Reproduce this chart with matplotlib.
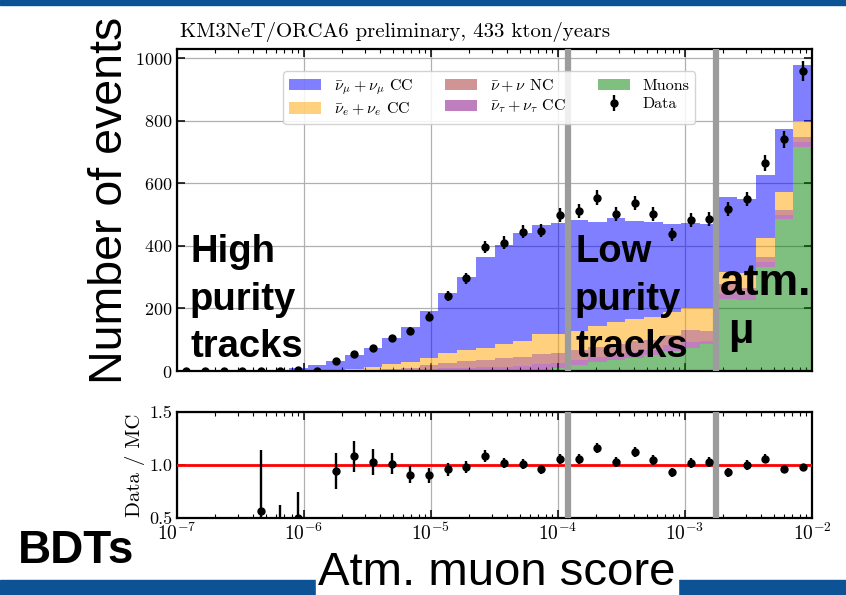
import numpy as np
import matplotlib.pyplot as plt
from matplotlib.patches import Rectangle
from matplotlib.ticker import LogLocator, NullFormatter

plt.rcParams['font.family'] = 'serif'
plt.rcParams['font.serif'] = ['cmr10', 'DejaVu Serif']
plt.rcParams['mathtext.fontset'] = 'cm'
plt.rcParams['axes.formatter.use_mathtext'] = True
plt.rcParams['axes.unicode_minus'] = False

W, H = 846, 595

# 34 log-spaced bins in atm. muon score
edges = np.logspace(-7, -2, 35)

# stacked MC expectations per bin (bottom -> top)
muons = [0] * 17 + [1, 2, 4, 8, 18, 28, 35, 42, 50, 65, 75, 86,
                    231, 228, 333, 486, 715]
nutau_cc = [0, 0, 0, 0, 0.1, 0.2, 0.3, 0.4, 0.7, 1, 1.4, 2, 3.5, 6, 9, 10, 12,
            13, 14, 17, 17, 17, 17, 17, 18, 17, 17, 18, 11, 16, 19, 17, 14, 16]
nu_nc = [0, 0, 0, 0, 0.1, 0.3, 0.7, 0.6, 1.3, 2, 2.6, 4, 6.5, 12, 17, 21, 24,
         26, 29, 34, 34, 33, 33, 33, 35, 33, 33, 37, 32, 30, 17, 16, 16, 16]
nue_cc = [0, 0, 0, 0, 0.3, 0.5, 1, 1, 2, 4, 8, 15, 18, 23, 31, 35, 39,
          45, 50, 63, 59, 61, 67, 71, 72, 72, 73, 70, 73, 40, 48, 59, 56, 54]
numu_cc = [0, 0, 0, 0, 1.25, 2.2, 6, 18, 29, 43, 61, 83, 114, 152, 193, 236, 291,
           318, 346, 350, 354, 355, 333, 332, 313, 306, 283, 275, 269, 240, 238, 202, 201, 179]

data = [0, 0, 0, 0, 1, 1, 4, 0, 31, 54, 75, 105, 129, 174, 240, 296, 396,
        411, 446, 449, 500, 513, 554, 503, 538, 502, 438, 484, 486, 518, 550, 665, 742, 960]

# BDT cut values
cuts = [1.2e-4, 1.75e-3]

components = [
    (muons, '#008000', 'Muons'),
    (nutau_cc, '#800080', r'$\bar{\nu}_\tau + \nu_\tau$ CC'),
    (nu_nc, '#a52a2a', r'$\bar{\nu} + \nu$ NC'),
    (nue_cc, '#ffa500', r'$\bar{\nu}_e + \nu_e$ CC'),
    (numu_cc, '#0000ff', r'$\bar{\nu}_\mu + \nu_\mu$ CC'),
]

centers = np.sqrt(edges[:-1] * edges[1:])
data_arr = np.array(data, dtype=float)

fig = plt.figure(figsize=(W / 100, H / 100), dpi=100)
ax = fig.add_axes([177 / W, 1 - 371 / H, 635 / W, 322 / H])
axr = fig.add_axes([177 / W, 1 - 518.3 / H, 635 / W, 106.6 / H])

# stacked histogram
bottom = np.zeros(len(edges) - 1)
handles = {}
for vals, col, lab in components:
    v = np.array(vals, dtype=float)
    h = ax.stairs(bottom + v, edges, baseline=bottom, fill=True,
                  color=col, alpha=0.5, lw=0, label=lab, zorder=2)
    handles[lab] = h
    bottom = bottom + v
mc_total = bottom

dh = ax.errorbar(centers, data_arr, yerr=np.sqrt(data_arr), fmt='o', color='k',
                 ms=5, elinewidth=1.7, capsize=0, zorder=5, label='Data')

for c in cuts:
    ax.axvline(c, color='#9c9c9c', lw=4.5, zorder=4)
    axr.axvline(c, color='#9c9c9c', lw=4.5, zorder=4)

ax.set_xscale('log')
ax.set_xlim(1e-7, 1e-2)
ax.set_ylim(0, 1030)
ax.set_yticks([0, 200, 400, 600, 800, 1000])
ax.grid(True, color='#b0b0b0', lw=0.9, zorder=1)
ax.set_axisbelow(True)
ax.tick_params(which='both', direction='in', top=True, right=True,
               labelbottom=False, labelsize=13)
ax.tick_params(which='major', length=6, width=1.1)
ax.tick_params(which='minor', length=3, width=0.8)
ax.xaxis.set_minor_locator(LogLocator(base=10, subs=np.arange(2, 10), numticks=20))
ax.xaxis.set_minor_formatter(NullFormatter())
for s in ax.spines.values():
    s.set_linewidth(1.6)

order = [r'$\bar{\nu}_\mu + \nu_\mu$ CC', r'$\bar{\nu}_e + \nu_e$ CC',
         r'$\bar{\nu} + \nu$ NC', r'$\bar{\nu}_\tau + \nu_\tau$ CC', 'Muons']
leg = ax.legend([handles[k] for k in order] + [dh], order + ['Data'],
                ncol=3, loc='upper left', bbox_to_anchor=(0.155, 0.955),
                fontsize=11.5, frameon=True, handlelength=2.0, handletextpad=0.8,
                columnspacing=2.0, borderpad=0.35, labelspacing=0.25)
leg.get_frame().set_edgecolor('#cccccc')
leg.get_frame().set_alpha(0.85)

# data / MC ratio
with np.errstate(divide='ignore', invalid='ignore'):
    ratio = np.where(mc_total > 0, data_arr / mc_total, np.nan)
    ratio_err = np.where(mc_total > 0, np.sqrt(data_arr) / mc_total, np.nan)

axr.axhline(1.0, color='red', lw=2, zorder=3)
axr.errorbar(centers, ratio, yerr=ratio_err, fmt='o', color='k', ms=5,
             elinewidth=1.7, capsize=0, zorder=5)
axr.set_xscale('log')
axr.set_xlim(1e-7, 1e-2)
axr.set_ylim(0.5, 1.5)
axr.set_yticks([0.5, 1.0, 1.5])
axr.set_yticklabels(['0.5', '1.0', '1.5'])
axr.grid(True, color='#b0b0b0', lw=0.9, zorder=1)
axr.set_axisbelow(True)
axr.tick_params(which='both', direction='in', top=True, right=True, labelsize=13)
axr.tick_params(axis='x', labelsize=14, pad=3)
axr.tick_params(which='major', length=6, width=1.1)
axr.tick_params(which='minor', length=3, width=0.8)
axr.xaxis.set_minor_locator(LogLocator(base=10, subs=np.arange(2, 10), numticks=20))
axr.xaxis.set_minor_formatter(NullFormatter())
axr.set_ylabel('Data / MC', fontsize=15, labelpad=3)
for s in axr.spines.values():
    s.set_linewidth(1.6)


def fx(x):
    return x / W


def fy(y):
    return 1 - y / H


fig.text(fx(180), fy(37), 'KM3NeT/ORCA6 preliminary, 433 kton/years',
         fontsize=15, va='baseline', ha='left')

# slide bands and annotations
slide_blue = '#0e5296'
fig.add_artist(Rectangle((0, fy(5)), 1, 5 / H, transform=fig.transFigure,
                         color=slide_blue, zorder=0))
fig.add_artist(Rectangle((0, 0), 1, 15 / H, transform=fig.transFigure,
                         color=slide_blue, zorder=0))
fig.add_artist(Rectangle((fx(316), 0), 362 / W, 50 / H, transform=fig.transFigure,
                         color='white', zorder=1))

sans = ['Liberation Sans', 'DejaVu Sans']
big = 27.5
fig.text(fx(110), fy(200), 'Number of events', rotation=90, fontsize=33.5,
         family=sans, ha='center', va='center')
for x0, words in [(190, ['High', 'purity', 'tracks']), (575, ['Low', 'purity', 'tracks'])]:
    for yb, w in zip([262, 310, 357], words):
        fig.text(fx(x0), fy(yb), w, fontsize=big, fontweight='bold', family=sans,
                 va='baseline', ha='left', zorder=10)
fig.text(fx(720), fy(295), 'atm.', fontsize=32, fontweight='bold', family=sans,
         va='baseline', ha='left', zorder=10)
fig.text(fx(728), fy(343), 'μ', fontsize=30, fontweight='bold', family=sans,
         va='baseline', ha='left', zorder=10)
fig.text(fx(18), fy(563), 'BDTs', fontsize=33, fontweight='bold', family=sans,
         va='baseline', ha='left', zorder=10)
fig.text(fx(318), fy(585), 'Atm. muon score', fontsize=34, family=sans,
         va='baseline', ha='left', zorder=10)

fig.savefig('out.png', dpi=100)
